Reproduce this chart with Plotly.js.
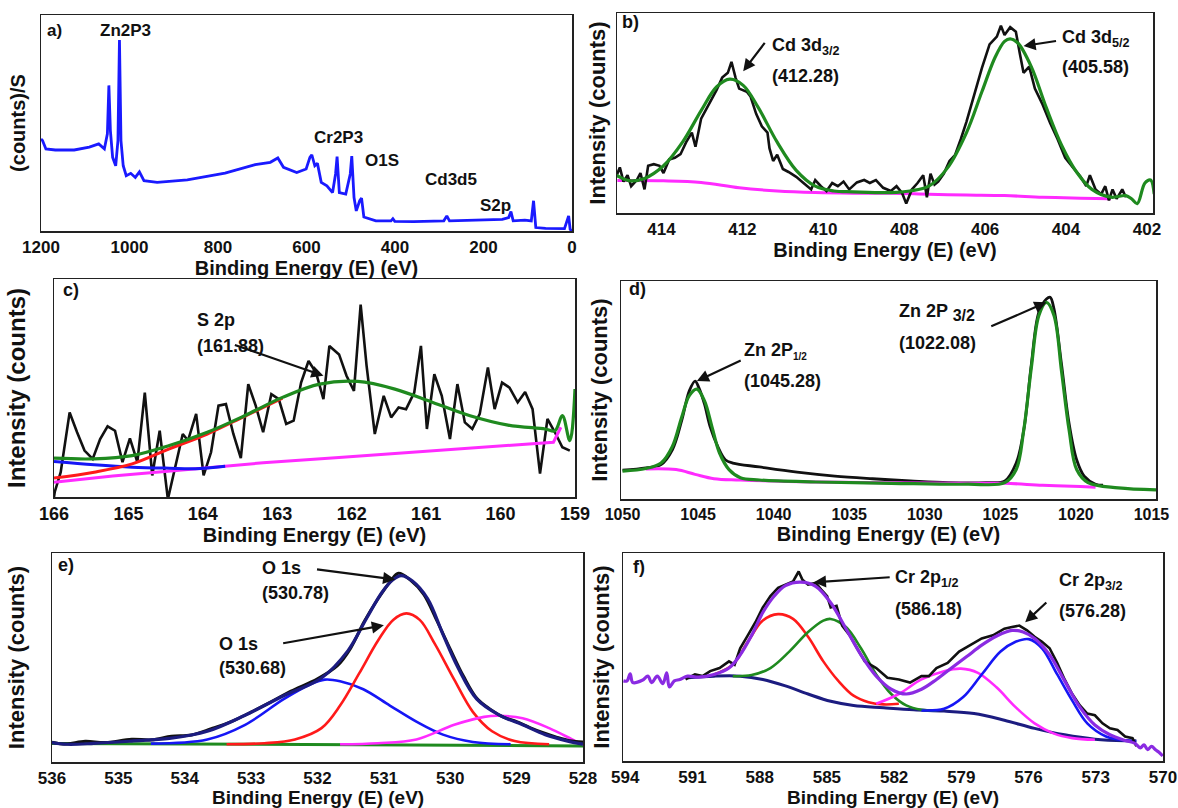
<!DOCTYPE html>
<html><head><meta charset="utf-8">
<script src="https://cdn.plot.ly/plotly-3.0.1.min.js"></script>
<style>html,body{margin:0;padding:0;background:#fff}#chart{width:1178px;height:808px}</style>
</head><body><div id="chart"></div><script>
// ---------- Panel a: survey spectrum ----------
const surveyBE = [1200,1196.6,1188.9,1167.6,1125,1090.9,1069.6,1056.8,1050,1046.6,1043.2,1038.1,1031.2,1026.1,1022.7,1019.3,1014.2,1007.4,997.2,986.9,977.6,967.3,937.5,869.3,784.1,715.9,681.8,664.8,652.0,622.1,600.8,592.3,588.0,581.2,575.3,566.7,553.9,541.1,534.3,530.9,525.8,511.3,501.1,497.7,492.6,487.5,479.8,475.6,470.4,443.2,409.1,404.8,400.5,357.9,289.7,282.9,276.9,187.5,157.6,143.1,138.0,132.9,106.5,92.0,86.9,81.8,59.6,17.0,10.2,7.6,4.2,0];
const surveyInt = [42.6,41.9,38.0,37.5,37.5,38.8,40.3,38.0,45.0,67.4,46.5,34.1,30.2,41.9,88.4,41.9,30.2,25.6,26.7,24.8,27.4,23.3,22.5,23.7,26.8,30.7,31.8,33.8,29.5,27.1,28.7,34.1,35.3,30.2,31.3,22.5,20.9,17.8,26.4,34.4,17.8,17.1,26.4,34.7,15.5,9.3,14.0,15.2,6.5,4.7,4.7,5.7,4.5,4.3,4.7,7.0,4.7,5.0,5.4,6.2,9.0,4.7,5.0,4.7,14.0,1.6,1.2,1.1,4.7,7.0,0.8,0];

// ---------- Panel b: Cd 3d ----------
const cdRawBE = [415.12,415.03,414.94,414.84,414.75,414.61,414.52,414.42,414.33,414.19,414.05,413.95,413.81,413.67,413.53,413.39,413.25,413.16,413.02,412.83,412.64,412.50,412.36,412.27,412.17,412.08,411.89,411.80,411.66,411.52,411.38,411.33,411.24,411.14,411.00,410.86,410.67,410.49,410.30,410.20,410.06,409.92,409.78,409.64,409.50,409.36,409.17,408.99,408.85,408.70,408.52,408.33,408.19,408.05,407.95,407.81,407.67,407.53,407.44,407.35,407.25,407.16,407.02,406.88,406.74,406.60,406.46,406.27,406.08,405.89,405.71,405.61,405.52,405.38,405.24,405.14,405.05,404.91,404.77,404.58,404.39,404.21,404.02,403.83,403.64,403.50,403.41,403.27,403.13,403.03,402.94,402.85,402.75,402.61,402.52];
const cdRawInt = [18.1,22.8,15.7,18.9,13.4,16.5,20.0,11.8,23.6,24.4,23.6,20.0,26.8,27.6,29.4,35.4,40.2,33.1,47.2,54.3,61.4,67.7,70.1,75.6,67.7,62.2,60.6,58.3,49.6,43.3,40.2,32.3,26.0,29.1,22.0,20.5,18.1,15.0,11.8,16.5,13.4,11.0,15.0,13.4,15.7,11.8,15.3,16.5,15.0,16.5,12.6,11.0,13.4,9.9,4.7,11.8,15.0,18.9,7.9,19.7,14.2,15.7,19.7,26.0,29.1,37.0,45.7,59.1,72.4,84.3,88.2,93.7,89.0,92.9,90.6,79.5,70.1,73.2,62.2,54.3,44.9,37.0,27.6,22.8,18.1,13.4,18.9,11.8,9.4,13.4,6.3,11.8,7.1,11.8,7.9];
const cdFitBE = [415.12,414.80,414.42,413.95,413.48,413.02,412.64,412.31,411.98,411.61,411.14,410.67,410.20,409.74,409.27,408.33,407.86,407.39,406.92,406.46,406.08,405.75,405.52,405.38,405.19,404.86,404.49,404.11,403.74,403.36,402.89,402.52,402.38,402.24,402.05,401.91,401.82];
const cdFitInt = [18.9,16.2,17.3,23.6,35.4,51.2,63.0,66.9,63.8,52.8,35.4,21.3,13.4,11.0,10.6,10.2,11.0,13.4,22.8,40.2,60.6,78.0,85.8,87.1,85.0,73.2,52.8,33.9,20.5,11.8,7.9,8.7,7.1,4.7,15.0,16.5,9.4];
const cdBgBE = [415.09,413.95,413.02,412.08,411.14,410.20,409.27,408.33,407.39,406.46,405.52,404.58,403.64,402.89];
const cdBgInt = [16.2,16.1,15.3,12.6,11.0,10.2,9.9,9.9,9.4,9.0,8.7,7.9,7.4,7.1];

// ---------- Panel c: S 2p ----------
const sRawBE = [166.0,165.99,165.91,165.79,165.69,165.59,165.48,165.38,165.28,165.18,165.08,164.98,164.88,164.78,164.68,164.58,164.47,164.37,164.27,164.20,164.09,163.99,163.89,163.79,163.69,163.59,163.49,163.39,163.29,163.19,163.08,162.98,162.88,162.78,162.68,162.58,162.48,162.38,162.30,162.17,162.07,161.97,161.88,161.80,161.69,161.57,161.47,161.37,161.27,161.16,161.07,160.99,160.89,160.79,160.68,160.58,160.48,160.38,160.28,160.17,160.08,159.98,159.88,159.77,159.67,159.57,159.47,159.37,159.27,159.17,159.07];
const sRawInt = [0,2.3,11.4,38.8,29.7,21.3,17.5,26.6,32.4,30.4,16.0,26.9,16.0,47.9,9.9,30.4,-1,14.5,28.9,25.9,38.1,9.9,20.5,41.9,42.6,28.9,17.8,51.8,41.9,29.7,47.2,44.9,33.5,35.0,52.5,62.4,57.1,44.9,69.3,65.4,55.6,48.7,88.3,60.1,28.9,46.4,36.5,41.1,40.3,47.9,69.3,31.2,56.3,46.4,26.6,51.8,34.2,31.2,38.1,59.4,40.3,52.5,50.2,43.4,48.2,40.3,10.7,35.8,29.7,22.8,21.3];
const sEnvBE = [166.0,165.46,164.95,164.45,163.94,163.44,162.93,162.43,161.92,161.42,160.91,160.41,159.90,159.40,159.27,159.17,159.07,159.0];
const sEnvInt = [17.8,17.5,19.0,23.6,29.7,37.3,45.7,51.8,53.0,49.5,43.4,37.3,33.0,31.2,30.4,37.3,25.9,49.5];
const sPeakBE = [166.0,165.46,164.95,164.45,163.94,163.44,162.93];
const sPeakInt = [8.7,11.4,15.2,22.1,28.9,37.0,45.4];
const sBlueBE = [166.0,165.46,164.95,164.45,164.1,163.7];
const sBlueInt = [16.3,14.8,13.7,13.2,13.0,14.1];
const sBgBE = [166.0,165.21,164.20,163.19,162.17,161.16,160.15,159.29,159.19];
const sBgInt = [6.8,9.6,12.6,15.7,18.1,20.5,22.8,25.1,32.0];

// ---------- Panel d: Zn 2p ----------
const znRawBE = [1050.0,1048.45,1047.45,1046.70,1046.08,1045.58,1045.20,1044.95,1044.58,1044.20,1043.70,1043.20,1042.70,1040.95,1038.45,1035.95,1033.45,1030.95,1028.45,1025.95,1024.70,1023.95,1023.45,1022.95,1022.45,1021.95,1021.70,1021.45,1020.95,1020.45,1019.95,1019.45,1018.70,1018.20];
const znRawInt = [13.2,14.3,15.8,22.6,36.1,49.6,54.1,51.1,43.6,33.1,24.1,18.0,16.5,14.7,12.3,10.5,9.3,8.3,7.5,7.5,8.3,16.5,31.6,61.7,85.7,91.7,92.5,87.2,61.7,34.6,18.0,10.5,6.8,6.3];
const znFitBE = [1050.0,1048.45,1047.45,1046.70,1046.08,1045.58,1045.08,1044.58,1044.08,1043.58,1042.95,1042.20,1040.95,1037.20,1032.20,1027.20,1024.70,1023.95,1023.45,1022.95,1022.45,1021.95,1021.45,1020.95,1020.45,1019.95,1019.20,1017.20,1014.70];
const znFitInt = [12.8,14.0,16.5,24.1,37.6,47.4,50.4,45.1,33.1,21.1,13.5,9.8,8.7,7.8,7.2,6.8,7.5,13.5,31.6,60.2,84.2,90.2,84.2,58.6,31.6,13.5,7.5,5.1,4.2];
const znBgBE = [1048.45,1046.45,1045.20,1043.95,1042.20,1037.20,1027.20,1024.70,1022.20,1019.70,1018.70];
const znBgInt = [13.8,13.5,11.3,9.3,8.7,7.8,7.2,7.2,6.3,5.7,5.4];

// ---------- Panel e: O 1s ----------
const oRawBE = [536.0,535.8,535.5,535.2,534.8,534.5,534.2,533.9,533.6,533.3,533.0,532.7,532.4,532.0,531.7,531.5,531.3,531.1,530.9,530.78,530.6,530.4,530.2,530.0,529.8,529.6,529.4,529.2,529.0,528.8,528.6,528.4,528.2,528.0];
const oRawInt = [9.5,8.6,9.9,9.3,10.9,10.6,12.3,12.9,15.9,19.3,23.9,28.8,33.9,39.8,46.1,54.5,67.0,77.5,86.5,90.3,87.0,80.2,67.5,54.0,41.0,30.5,25.3,21.5,19.3,16.5,14.0,11.9,10.2,9.6];
const oFitBE = [536.0,535.77,535.37,534.80,534.23,533.66,533.09,532.51,531.94,531.54,531.26,531.03,530.86,530.74,530.57,530.34,530.11,529.89,529.60,529.26,528.91,528.57,528.23,528.0];
const oFitInt = [9.3,8.5,8.9,10.0,11.3,14.7,22.4,31.7,40.2,53.3,68.8,81.1,87.3,89.2,86.6,78.1,61.1,45.6,30.1,22.4,17.8,13.1,10.0,8.5];
const oRedBE = [533.37,532.80,532.34,531.94,531.66,531.37,531.09,530.86,530.66,530.46,530.23,529.94,529.66,529.37,529.03,528.51];
const oRedInt = [8.5,9.0,10.8,16.2,27.0,42.5,58.0,68.0,71.1,68.0,56.4,39.4,24.0,14.7,10.0,8.5];
const oBlueBE = [534.51,533.66,533.09,532.51,532.11,531.89,531.66,531.31,530.91,530.51,530.11,529.66,529.09];
const oBlueInt = [8.8,10.8,17.8,30.1,37.1,39.4,38.6,34.8,27.0,19.3,13.1,9.6,8.5];
const oMagBE = [531.66,531.09,530.51,529.94,529.49,529.26,528.91,528.51,528.11,528.0];
const oMagInt = [8.5,9.0,10.8,17.8,21.6,22.1,20.9,16.2,10.0,8.5];
const oBgBE = [536.0,532.0,528.0];
const oBgInt = [8.9,8.3,7.7];

// ---------- Panel f: Cr 2p ----------
const crRawBE = [591.31,590.89,590.55,590.21,589.79,589.37,589.12,588.87,588.53,588.19,587.86,587.52,587.18,586.85,586.51,586.26,586.09,585.84,585.50,585.25,584.99,584.83,584.57,584.32,583.98,583.65,583.31,582.80,582.30,581.79,581.29,580.78,580.45,580.11,579.61,579.10,578.60,578.09,577.59,577.08,576.74,576.41,576.07,575.73,575.40,575.06,574.72,574.39,574.05,573.71,573.38,573.04,572.70,572.37,572.03,571.69,571.36,571.19];
const crRawInt = [39.2,41.6,40.8,43.2,44.7,47.9,46.3,54.2,60.4,66.7,73.8,79.3,83.2,84.8,86.3,91.1,87.1,84.8,85.6,82.4,79.3,73.8,74.6,65.1,60.4,54.2,47.9,44.7,40.0,39.2,37.7,40.8,40.8,44.7,47.1,52.6,55.7,58.9,60.4,63.6,64.4,65.1,62.8,59.7,57.3,54.2,47.1,39.2,32.2,26.7,22.8,22.0,18.1,15.7,14.9,11.8,11.0,7.1];
const crFitBE = [594.08,593.92,593.78,593.66,593.24,592.99,592.82,592.57,592.32,592.15,592.03,591.81,591.56,591.22,590.72,590.04,589.37,588.87,588.36,587.86,587.35,586.85,586.17,585.50,584.83,584.15,583.48,582.80,582.13,581.46,580.78,580.11,579.44,578.76,578.09,577.42,576.74,576.24,575.73,575.06,574.39,573.71,573.04,572.37,571.69,571.27,571.01,570.85,570.68,570.51,570.35,570.18,570.01];
const crFitInt = [38.5,38.5,41.9,37.7,38.8,40.8,37.7,40.8,37.2,42.4,35.6,38.5,39.2,40.8,40.3,41.6,44.7,51.0,60.4,71.4,79.3,84.3,86.0,84.0,76.1,63.6,51.0,40.8,34.5,32.2,34.5,39.2,44.7,50.2,55.7,60.1,62.8,62.0,58.9,51.0,38.5,25.9,17.3,12.6,9.9,8.6,6.3,7.8,5.5,7.1,5.5,4.2,2.4];
const crRedBE = [590.04,589.20,588.53,587.86,587.18,586.51,585.84,585.16,584.49,583.81,583.14,582.47,581.79];
const crRedInt = [41.6,46.3,57.3,67.5,70.6,68.3,59.7,47.9,38.5,31.4,28.3,27.2,27.5];
const crGreenBE = [589.20,588.36,587.52,586.68,585.84,585.16,584.83,584.15,583.48,582.80,582.13,581.46,580.78,580.11];
const crGreenInt = [40.8,41.3,44.7,52.6,62.0,67.5,68.3,64.4,54.2,41.6,32.2,26.7,24.6,24.3];
const crMagBE = [582.80,581.79,580.78,579.77,579.02,578.26,577.42,576.58,575.73,574.89,574.05,573.04];
const crMagInt = [27.5,32.2,39.2,43.2,44.4,42.4,35.3,25.9,18.1,13.3,11.0,10.2];
const crBlueBE = [580.78,579.77,578.93,578.09,577.25,576.58,575.99,575.40,574.72,574.05,573.38,572.54,571.69,571.19];
const crBlueInt = [24.3,25.1,30.6,41.6,52.6,57.3,58.6,54.2,41.6,29.0,18.1,11.8,9.9,9.4];
const crBgBE = [591.22,590.04,588.87,587.86,586.85,585.84,584.83,583.81,582.47,581.12,579.77,578.43,577.08,575.73,574.39,573.04,571.69,571.19];
const crBgInt = [40.0,40.8,40.8,39.2,36.1,32.2,28.7,26.7,25.6,24.6,24.0,22.8,19.6,15.7,12.6,10.5,9.7,9.7];

// ---------- tick labels ----------
const ticksA = [1200,1000,800,600,400,200,0];
const ticksB = [414,412,410,408,406,404,402];
const ticksC = [166,165,164,163,162,161,160,159];
const ticksD = [1050,1045,1040,1035,1030,1025,1020,1015];
const ticksE = [536,535,534,533,532,531,530,529,528];
const ticksF = [594,591,588,585,582,579,576,573,570];
const xTitle = 'Binding Energy (E) (eV)';

// ---------- drawing ----------
const W = 1178, H = 808;
const FONT = 'Liberation Sans, Arial, sans-serif';
const C = {black:'#111111', green:'#1f8a1f', magenta:'#ff2bff', red:'#ff1a1a', blue:'#1616f5', navy:'#1c1c80', purple:'#8a2be2', survey:'#1a1aff'};

function tr(n, x, y, color, width, smooth) {
  return {x:x, y:y, xaxis:'x'+(n>1?n:''), yaxis:'y'+(n>1?n:''), type:'scatter', mode:'lines',
          line:{color:color, width:width, shape: smooth ? 'spline' : 'linear', smoothing: smooth ? 1 : 0},
          hoverinfo:'skip', showlegend:false};
}
const data = [
  tr(1, surveyBE, surveyInt, C.survey, 2.8, false),
  tr(2, cdBgBE, cdBgInt, C.magenta, 3, true),
  tr(2, cdRawBE, cdRawInt, C.black, 2.6, false),
  tr(2, cdFitBE, cdFitInt, C.green, 3.2, true),
  tr(3, sRawBE, sRawInt, C.black, 2.6, false),
  tr(3, sBgBE, sBgInt, C.magenta, 3, false),
  tr(3, sBlueBE, sBlueInt, C.blue, 3, true),
  tr(3, sPeakBE, sPeakInt, C.red, 3, true),
  tr(3, sEnvBE, sEnvInt, C.green, 3.2, true),
  tr(4, znRawBE, znRawInt, C.black, 2.8, true),
  tr(4, znBgBE, znBgInt, C.magenta, 3, true),
  tr(4, znFitBE, znFitInt, C.green, 3.2, true),
  tr(5, oBgBE, oBgInt, C.green, 3, false),
  tr(5, oBlueBE, oBlueInt, C.blue, 2.6, true),
  tr(5, oRedBE, oRedInt, C.red, 2.6, true),
  tr(5, oMagBE, oMagInt, C.magenta, 2.6, true),
  tr(5, oRawBE, oRawInt, C.black, 3, true),
  tr(5, oFitBE, oFitInt, C.navy, 3.2, true),
  tr(6, crBgBE, crBgInt, C.navy, 3, true),
  tr(6, crRedBE, crRedInt, C.red, 2.6, true),
  tr(6, crGreenBE, crGreenInt, C.green, 2.6, true),
  tr(6, crMagBE, crMagInt, C.magenta, 2.6, true),
  tr(6, crBlueBE, crBlueInt, C.blue, 2.6, true),
  tr(6, crRawBE, crRawInt, C.black, 2.6, false),
  tr(6, crFitBE, crFitInt, C.purple, 3.2, true)
];

const boxes = [
  {l:41, r:572, t:15, b:231, range:[1200,0], ticks:ticksA, tsize:17, ytitle:'(counts)/S', ysize:20, ystand:8, axTitle:true},
  {l:617, r:1153, t:13, b:213, range:[415.1,401.85], ticks:ticksB, tsize:17, ytitle:'Intensity (counts)', ysize:22, ystand:4, axTitle:true},
  {l:54, r:575, t:279, b:497, range:[166,159], ticks:ticksC, tsize:18, ytitle:'Intensity (counts)', ysize:24, ystand:20, axTitle:true},
  {l:621, r:1156, t:281, b:499, range:[1050.1,1014.7], ticks:ticksD, tsize:16, ytitle:'Intensity (counts)', ysize:22, ystand:6, axTitle:true},
  {l:52, r:583, t:553, b:762, range:[536,528], ticks:ticksE, tsize:17, ytitle:'Intensity (counts)', ysize:22, ystand:20, axTitle:false},
  {l:623, r:1163, t:553, b:761, range:[594.1,570], ticks:ticksF, tsize:17, ytitle:'Intensity (counts)', ysize:22, ystand:6, axTitle:false}
];

const layout = {width:W, height:H, margin:{l:0,r:0,t:0,b:0}, paper_bgcolor:'#fff', plot_bgcolor:'#fff',
  font:{family:FONT, color:'#111', weight:'bold'}, showlegend:false, annotations:[]};

boxes.forEach((bx, i) => {
  const s = i === 0 ? '' : String(i+1);
  layout['xaxis'+s] = {domain:[bx.l/W, bx.r/W], range:bx.range, anchor:'y'+s, tickvals:bx.ticks,
    ticks:'', showgrid:false, zeroline:false, showline:true, mirror:true, linecolor:'#222', linewidth:1.5,
    tickfont:{family:FONT, size:bx.tsize, color:'#111', weight:'bold'},
    title:{text: bx.axTitle ? xTitle : '', font:{family:FONT, size:20, color:'#111', weight:'bold'}, standoff:0},
    fixedrange:true};
  layout['yaxis'+s] = {domain:[1-bx.b/H, 1-bx.t/H], range:[0,100], anchor:'x'+s, showticklabels:false,
    ticks:'', showgrid:false, zeroline:false, showline:true, mirror:true, linecolor:'#222', linewidth:1.5,
    title:{text:bx.ytitle, font:{family:FONT, size:bx.ysize, color:'#111', weight:'bold'}, standoff:bx.ystand},
    fixedrange:true};
  if (!bx.axTitle) {
    // bottom-row axis titles sit right at the page edge, as in the reference
    layout.annotations.push({xref:'paper', yref:'paper', x:(bx.l+bx.r)/2/W, y:1-797.5/H, text:xTitle,
      showarrow:false, xanchor:'center', yanchor:'middle', font:{family:FONT, size:19, color:'#111', weight:'bold'}});
  }
});

function txt(n, x, y, text, size) {
  const s = n>1 ? String(n) : '';
  layout.annotations.push({xref:'x'+s, yref:'y'+s, x:x, y:y, text:text, showarrow:false,
    xanchor:'left', yanchor:'middle', font:{family:FONT, size:size||18, color:'#111', weight:'bold'}});
}
function arrow(n, hx, hy, tx, ty) {
  const s = n>1 ? String(n) : '';
  layout.annotations.push({xref:'x'+s, yref:'y'+s, axref:'x'+s, ayref:'y'+s, x:hx, y:hy, ax:tx, ay:ty,
    text:'', showarrow:true, arrowhead:2, arrowsize:1.1, arrowwidth:2.2, arrowcolor:'#111', standoff:0, startstandoff:0});
}

// panel a
txt(1, 1191.5, 92.7, 'a)', 17);
txt(1, 1072, 92.7, 'Zn2P3', 17);
txt(1, 588, 43.4, 'Cr2P3', 17);
txt(1, 473, 32.6, 'O1S', 17);
txt(1, 336.6, 24, 'Cd3d5', 17);
txt(1, 213, 11.6, 'S2p', 17);
// panel b
txt(2, 415.03, 95.3, 'b)');
txt(2, 411.33, 83.5, 'Cd 3d<sub>3/2</sub>');
txt(2, 411.33, 68.5, '(412.28)');
arrow(2, 411.98, 70.9, 411.42, 85.8);
txt(2, 404.16, 87.4, 'Cd 3d<sub>5/2</sub>');
txt(2, 404.16, 73.2, '(405.58)');
arrow(2, 405.05, 83.5, 404.21, 86.1);
// panel c
txt(3, 165.91, 95.1, 'c)');
txt(3, 164.1, 81.4, 'S 2p');
txt(3, 164.1, 69.3, '(161.88)');
arrow(3, 162.38, 55.6, 163.59, 70.0);
// panel d
txt(4, 1049.7, 96.2, 'd)');
txt(4, 1042.08, 67.7, 'Zn 2P<sub><span style="font-size:10px">1/2</span></sub>');
txt(4, 1042.08, 54.1, '(1045.28)');
arrow(4, 1045.08, 54.1, 1042.08, 63.9);
txt(4, 1031.83, 85.7, 'Zn 2P <sub><span style="font-size:16px">3/2</span></sub>');
txt(4, 1031.83, 71.4, '(1022.08)');
arrow(4, 1021.95, 90.2, 1025.7, 78.9);
// panel e
txt(5, 535.94, 94.3, 'e)');
txt(5, 532.86, 92.7, 'O 1s');
txt(5, 532.86, 81.1, '(530.78)');
arrow(5, 530.83, 87.3, 532.03, 92.3);
txt(5, 533.51, 56.4, 'O 1s');
txt(5, 533.51, 44.8, '(530.68)');
arrow(5, 531.0, 65.4, 532.54, 56.7);
// panel f
txt(6, 593.75, 93.4, 'f)');
txt(6, 582.05, 87.9, 'Cr 2p<sub>1/2</sub>');
txt(6, 582.05, 73.0, '(586.18)');
arrow(6, 585.58, 85.9, 582.13, 88.4);
txt(6, 574.72, 86.3, 'Cr 2p<sub>3/2</sub>');
txt(6, 574.72, 72.2, '(576.28)');
arrow(6, 576.15, 66.7, 575.14, 76.9);

Plotly.newPlot('chart', data, layout, {staticPlot:true, displayModeBar:false});
</script></body></html>
